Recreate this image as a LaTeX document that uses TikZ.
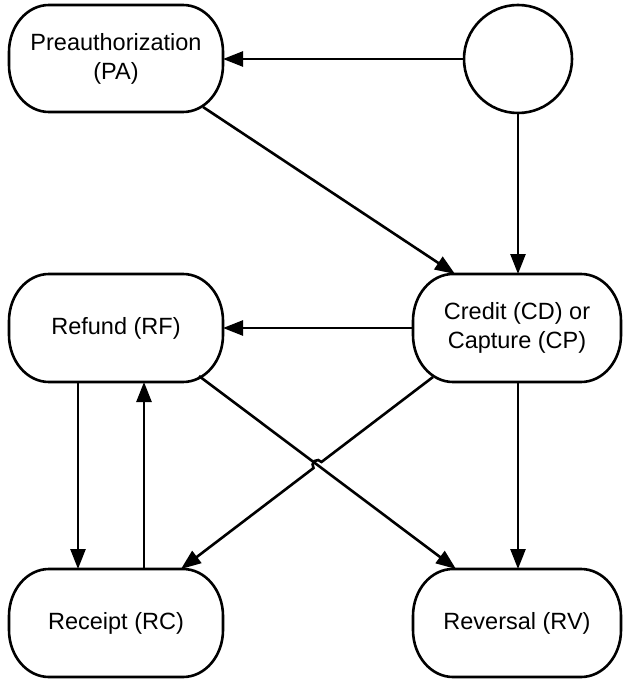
\documentclass[tikz,border=0pt]{standalone}
\usepackage{fontspec}
\setmainfont{Liberation Sans}
\usetikzlibrary{arrows.meta,calc,shapes.geometric}
\begin{document}
\begin{tikzpicture}[x=1pt,y=1pt,
  line width=2.6pt,
  box/.style={rectangle, outer sep=0pt, align=center, inner sep=0pt,
    font=\fontsize{23.5}{29}\selectfont},
  arr/.style={-{Triangle[length=20pt,width=15pt]}, line width=2.6pt}]
\fill[white] (0,0) rectangle (622,-679);
\useasboundingbox (0,0) rectangle (622,-679);
% nodes
\node[box, minimum width=214pt, minimum height=107pt] (PA) at (116,-58.5) {Preauthorization\\(PA)};
\node[draw, circle, minimum size=108pt, inner sep=0pt] (circ) at (518,-59) {};
\node[box, minimum width=214pt, minimum height=108pt] (RF) at (116,-328) {Refund (RF)};
\node[box, minimum width=208pt, minimum height=108pt] (CD) at (517,-328) {Credit (CD) or\\Capture (CP)};
\node[box, minimum width=214pt, minimum height=108pt] (RC) at (116,-623) {Receipt (RC)};
\node[box, minimum width=208pt, minimum height=108pt] (RV) at (517,-623) {Reversal (RV)};
% outlines with elliptical corners
\foreach \n in {PA,RF,CD,RC,RV}{
  \draw ($(\n.north west)+(40,0)$) -- ($(\n.north east)+(-40,0)$)
    arc[start angle=90, end angle=0, x radius=40, y radius=47]
    -- ($(\n.south east)+(0,47)$)
    arc[start angle=0, end angle=-90, x radius=40, y radius=47]
    -- ($(\n.south west)+(40,0)$)
    arc[start angle=270, end angle=180, x radius=40, y radius=47]
    -- ($(\n.north west)+(0,-47)$)
    arc[start angle=180, end angle=90, x radius=40, y radius=47]
    -- cycle;
}
% helper coordinates
\coordinate (paA) at ($(PA.south east)+(-20,5)$);
\coordinate (cdT) at ($(CD.north west)+(42,0)$);
\coordinate (rfA) at ($(RF.south east)+(-24,6)$);
\coordinate (rvB) at ($(RV.north west)+(43,0)$);
\coordinate (cdA) at ($(CD.south west)+(20,5)$);
\coordinate (rcB) at ($(RC.north east)+(-42,0)$);
\coordinate (rfD) at ($(RF.south west)+(69,0)$);
\coordinate (rcD) at ($(RC.north west)+(69,0)$);
\coordinate (rcU) at ($(RC.north west)+(135,0)$);
\coordinate (rfU) at ($(RF.south west)+(135,0)$);
\coordinate (X) at (intersection of rfA--rvB and cdA--rcB);
% connectors
\draw[arr] (circ.west) -- (circ.west -| PA.east);
\draw[arr] (paA) -- (cdT);
\draw[arr] (circ.south) -- (circ.south |- CD.north);
\draw[arr] (CD.west) -- (CD.west -| RF.east);
\draw[arr] (rfD) -- (rcD);
\draw[arr] (rcU) -- (rfU);
\draw[arr] (rfA) -- (rvB);
\draw[arr] (cdA) -- ($(X)!5pt!(cdA)$) arc[start angle=37.3, end angle=217.3, radius=5pt] -- (rcB);
\draw[arr] (circ.south |- CD.south) -- (circ.south |- RV.north);
\end{tikzpicture}
\end{document}
